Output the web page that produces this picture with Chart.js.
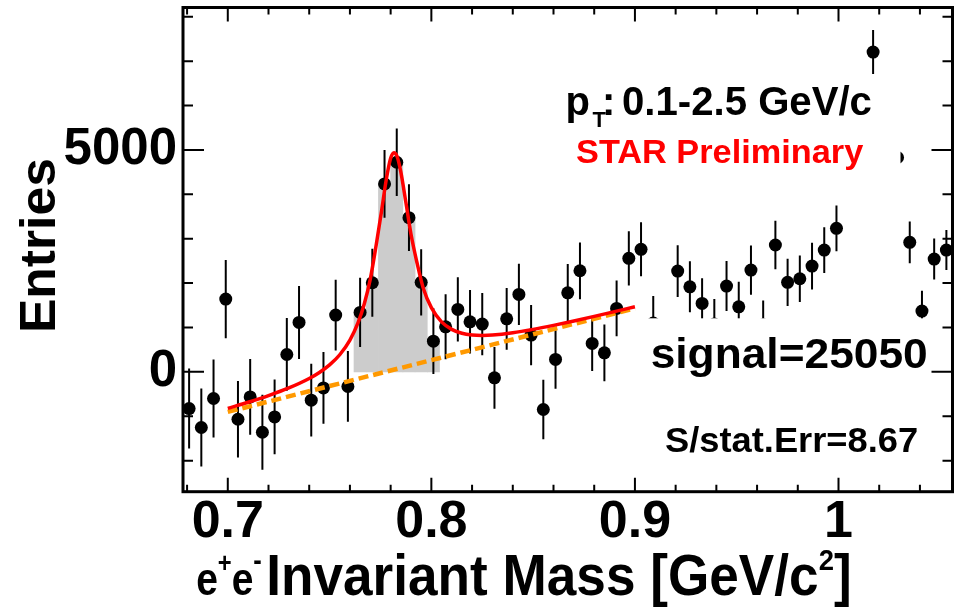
<!DOCTYPE html>
<html><head><meta charset="utf-8">
<script src="https://cdn.jsdelivr.net/npm/chart.js@4.4.1/dist/chart.umd.min.js"></script>
<style>html,body{margin:0;padding:0;background:#fff}#wrap{width:959px;height:610px;position:relative}</style>
</head><body><div id="wrap"><canvas id="c"></canvas></div>
<script>
// ---- data ----
const binMass = [0.681,0.687,0.693,0.699,0.705,0.711,0.717,0.723,0.729,0.735,
  0.741,0.747,0.753,0.759,0.765,0.771,0.777,0.783,0.789,0.795,
  0.801,0.807,0.813,0.819,0.825,0.831,0.837,0.843,0.849,0.855,
  0.861,0.867,0.873,0.879,0.885,0.891,0.897,0.903,0.909,0.915,
  0.921,0.927,0.933,0.939,0.945,0.951,0.957,0.963,0.969,0.975,
  0.981,0.987,0.993,0.999,1.005,1.011,1.017,1.023,1.029,1.035,
  1.041,1.047,1.053];
const entries = [-826,-1254,-600,1640,-1067,-564,-1360,-1015,392,1114,
  -638,-361,1279,-329,1340,2008,4234,4723,3474,2017,
  692,1015,1408,1128,1076,-135,1196,1746,828,-848,
  280,1782,2278,641,429,1430,2558,2761,1099,500,
  2272,1917,1543,1076,1933,1466,2294,1060,2858,2017,
  2098,2384,2745,3235,4900,5700,7205,6000,4830,2919,
  1369,2542,2745];
const statErr = [902,880,880,880,860,855,846,842,820,823,
  820,808,797,797,782,767,763,763,752,748,
  741,733,726,714,703,695,695,688,677,670,
  658,650,639,620,639,627,612,609,610,600,
  583,575,564,564,564,564,556,550,545,530,
  526,526,515,515,510,505,496,495,490,470,
  458,462,451];
const fitMass = [0.700,0.710,0.720,0.730,0.740,0.745,0.750,0.755,0.760,0.764,
  0.767,0.770,0.773,0.7755,0.778,0.780,0.7816,0.7832,0.785,0.7875,
  0.790,0.793,0.796,0.800,0.805,0.810,0.815,0.820,0.825,0.830,
  0.840,0.850,0.860,0.870,0.880,0.890,0.900];
const fitValue = [-824,-685,-534,-362,-149,-13,158,386,716,1107,
  1524,2090,2887,3614,4373,4813,4939,4850,4507,3815,
  3100,2450,1892,1447,1127,958,870,831,821,829,
  880,957,1048,1147,1251,1358,1467];
const bgMass = [0.700, 0.900];
const bgValue = [-902, 1430];
const signalWindow = [0.762, 0.804];
const xTickValues = [0.7, 0.8, 0.9, 1.0];
const xTickLabels = ['0.7', '0.8', '0.9', '1'];
const xMinorTicks = [0.68,0.72,0.74,0.76,0.78,0.82,0.84,0.86,0.88,0.92,0.94,0.96,0.98,1.02,1.04];
const yTickValues = [0, 5000];
const yTickLabels = ['0', '5000'];
const yMinorTicks = [-2000,-1000,1000,2000,3000,4000,6000,7000,8000];

// ---- layout / style ----
const FONT = '"Liberation Sans", Arial, Helvetica, sans-serif';
Chart.defaults.font.family = FONT;
const paneBoxes = [ {x0:555, y0:76, x1:900.5, y1:186}, {x0:641, y0:318.3, x1:938, y1:478} ];

function drawFit(ctx, str, size, inkLeft, baseline, inkWidth, color) {
  ctx.save();
  ctx.font = 'bold ' + size + 'px ' + FONT;
  ctx.fillStyle = color || '#000';
  ctx.textAlign = 'left'; ctx.textBaseline = 'alphabetic';
  const m = ctx.measureText(str);
  const w = m.actualBoundingBoxLeft + m.actualBoundingBoxRight;
  const sx = inkWidth ? inkWidth / w : 1;
  ctx.translate(inkLeft, baseline);
  ctx.scale(sx, 1);
  ctx.fillText(str, m.actualBoundingBoxLeft, 0);
  ctx.restore();
}
function drawRich(ctx, segs, inkLeft, inkRight, baseline, color) {
  ctx.save();
  ctx.fillStyle = color || '#000'; ctx.textBaseline = 'alphabetic'; ctx.textAlign = 'left';
  let x = 0, inkL = null, inkR = -1e9; const placed = [];
  segs.forEach(s => {
    ctx.font = 'bold ' + s.size + 'px ' + FONT;
    const m = ctx.measureText(s.t);
    const l = x - m.actualBoundingBoxLeft, r = x + m.actualBoundingBoxRight;
    if (inkL === null || l < inkL) inkL = l;
    if (r > inkR) inkR = r;
    placed.push({s: s, x: x});
    x += m.width;
  });
  const sx = (inkRight - inkLeft) / (inkR - inkL);
  ctx.translate(inkLeft, baseline); ctx.scale(sx, 1); ctx.translate(-inkL, 0);
  placed.forEach(p => { ctx.font = 'bold ' + p.s.size + 'px ' + FONT; ctx.fillText(p.s.t, p.x, p.s.dy || 0); });
  ctx.restore();
}

const errorBars = {
  id: 'errorBars',
  beforeDatasetDraw(chart, args) {
    if (chart.data.datasets[args.index].label !== 'data') return;
    const {ctx, chartArea: a, scales: {x, y}} = chart;
    ctx.save();
    ctx.beginPath(); ctx.rect(a.left, a.top, a.right - a.left, a.bottom - a.top); ctx.clip();
    ctx.strokeStyle = '#000'; ctx.lineWidth = 2;
    ctx.beginPath();
    binMass.forEach((m, i) => {
      const px = x.getPixelForValue(m);
      ctx.moveTo(px, y.getPixelForValue(entries[i] - statErr[i]));
      ctx.lineTo(px, y.getPixelForValue(entries[i] + statErr[i]));
    });
    ctx.stroke();
    ctx.restore();
  }
};

const panes = {
  id: 'panes',
  afterDatasetsDraw(chart) {
    const ctx = chart.ctx;
    ctx.save();
    ctx.fillStyle = '#fff';
    paneBoxes.forEach(b => ctx.fillRect(b.x0, b.y0, b.x1 - b.x0, b.y1 - b.y0));
    ctx.restore();
    // pT label
    drawFit(ctx, 'p', 40, 567.5, 115, null);
    drawFit(ctx, 'T', 22, 592.5, 126.7, null);
    drawFit(ctx, ':', 40, 605, 115, null);
    drawFit(ctx, '0.1-2.5 GeV/c', 40, 623, 115, 248.7);
    drawFit(ctx, 'STAR Preliminary', 34, 576, 163.3, 287.3, '#ff0000');
    drawFit(ctx, 'signal=25050', 43, 651.7, 368.3, 275);
    drawFit(ctx, 'S/stat.Err=8.67', 35, 666, 451.7, 250.7);
  }
};

const frame = {
  id: 'frame',
  afterDraw(chart) {
    const {ctx, chartArea: a, scales: {x, y}} = chart;
    ctx.save();
    ctx.strokeStyle = '#000'; ctx.lineWidth = 2;
    ctx.beginPath();
    const xt = (v, len) => { const px = x.getPixelForValue(v);
      ctx.moveTo(px, a.bottom); ctx.lineTo(px, a.bottom - len);
      ctx.moveTo(px, a.top); ctx.lineTo(px, a.top + len); };
    const yt = (v, len) => { const py = y.getPixelForValue(v);
      ctx.moveTo(a.left, py); ctx.lineTo(a.left + len, py);
      ctx.moveTo(a.right, py); ctx.lineTo(a.right - len, py); };
    xTickValues.forEach(v => xt(v, 14));
    xMinorTicks.forEach(v => xt(v, 7));
    yTickValues.forEach(v => yt(v, 21));
    yMinorTicks.forEach(v => yt(v, 10));
    ctx.stroke();
    ctx.lineWidth = 3;
    ctx.strokeRect(a.left, a.top, a.right - a.left, a.bottom - a.top);
    ctx.restore();
    // axis titles
    ctx.save();
    ctx.translate(55, 330); ctx.rotate(-Math.PI / 2);
    drawFit(ctx, 'Entries', 50, 0, 0, 170);
    ctx.restore();
    drawRich(ctx, [{t:'e', size:46}, {t:'+', size:28, dy:-23}, {t:'e', size:46}, {t:'-', size:30, dy:-25}], 197, 261, 595);
    drawRich(ctx, [{t:'Invariant Mass [GeV/c', size:58}, {t:'2', size:30, dy:-25}, {t:']', size:58}], 269, 849.5, 595);
  }
};

const pts = (xs, ys) => xs.map((v, i) => ({x: v, y: ys[i]}));

new Chart(document.getElementById('c'), {
  type: 'scatter',
  data: { datasets: [
    { type: 'line', label: 'fit', data: pts(fitMass, fitValue), borderColor: '#ff0000', borderWidth: 3.5,
      pointRadius: 0, cubicInterpolationMode: 'monotone', fill: false, order: 0, borderJoinStyle: 'round' },
    { type: 'line', label: 'background', data: pts(bgMass, bgValue), borderColor: '#ff9900', borderWidth: 4.5,
      borderDash: [10, 5], pointRadius: 0, fill: false, order: 1 },
    { type: 'scatter', label: 'data', data: pts(binMass, entries), pointRadius: 6.5, pointBorderWidth: 0,
      pointBackgroundColor: '#000', backgroundColor: '#000', borderColor: '#000', order: 2 },
    { type: 'bar', label: 'signal', data: pts(binMass, entries).filter(p => p.x > signalWindow[0] && p.x < signalWindow[1]),
      backgroundColor: '#cccccc', borderWidth: 0, barPercentage: 1, categoryPercentage: 1, order: 3 }
  ]},
  options: {
    responsive: true, maintainAspectRatio: false, animation: false,
    layout: { padding: { left: 0, right: 6.3, top: 7.5, bottom: 0 } },
    plugins: { legend: { display: false }, tooltip: { enabled: false } },
    events: [],
    scales: {
      x: { type: 'linear', position: 'bottom', min: 0.678, max: 1.056, offset: false,
        grid: { display: false, drawTicks: false }, border: { display: false },
        afterBuildTicks: s => { s.ticks = xTickValues.map(v => ({ value: v })); },
        ticks: { callback: v => { const i = xTickValues.indexOf(v); return i >= 0 ? xTickLabels[i] : ''; },
          font: { size: 52, weight: 'bold' }, color: '#000', padding: 0, maxRotation: 0, minRotation: 0, autoSkip: false },
        afterFit: s => { s.height = 118.3; s.paddingLeft = 0; s.paddingRight = 0; s.paddingTop = 0; s.paddingBottom = 0; } },
      y: { type: 'linear', position: 'left', min: -2700, max: 8210,
        grid: { display: false, drawTicks: false }, border: { display: false },
        afterBuildTicks: s => { s.ticks = yTickValues.map(v => ({ value: v })); },
        ticks: { callback: v => { const i = yTickValues.indexOf(v); return i >= 0 ? yTickLabels[i] : ''; },
          font: { size: 51, weight: 'bold' }, color: '#000', padding: 6, autoSkip: false },
        afterFit: s => { s.width = 183; s.paddingTop = 0; s.paddingBottom = 0; s.paddingLeft = 0; s.paddingRight = 0; } }
    }
  },
  plugins: [errorBars, panes, frame]
});
</script>
</body></html>
